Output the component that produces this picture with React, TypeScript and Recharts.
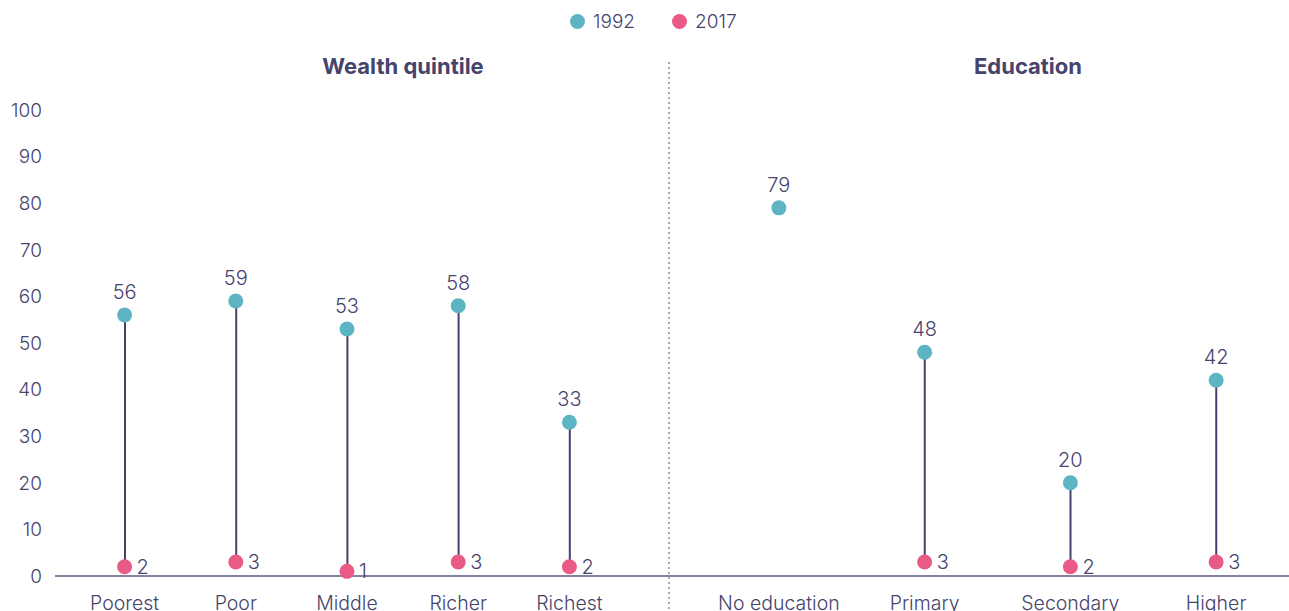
import React from 'react'
import { ComposedChart, Bar, Line, XAxis, YAxis, LabelList } from 'recharts'

const seriesNames = ['1992', '2017']
const yTicks = [0, 10, 20, 30, 40, 50, 60, 70, 80, 90, 100]

const wealthCategories = ['Poorest', 'Poor', 'Middle', 'Richer', 'Richest']
const wealth1992 = [56, 59, 53, 58, 33]
const wealth2017 = [2, 3, 1, 3, 2]

const educationCategories = ['No education', 'Primary', 'Secondary', 'Higher']
const education1992 = [79, 48, 20, 42]
const education2017: (number | null)[] = [null, 3, 2, 3]

const TEAL = '#5db5c4'
const PINK = '#ea5a86'
const STEM = '#46416c'
const TEXT = '#46436d'
const FONT = 'Inter, "Liberation Sans", sans-serif'

const buildRows = (cats: string[], a: number[], b: (number | null)[]) =>
  cats.map((name, i) => ({
    name,
    y1992: a[i],
    y2017: b[i],
    range: b[i] == null ? null : [b[i], a[i]],
  }))

const wealthRows = buildRows(wealthCategories, wealth1992, wealth2017)
const educationRows = buildRows(educationCategories, education1992, education2017)

interface IPanel {
  data: any[]
  width: number
  showYAxis: boolean
  padLeft: number
  padRight: number
}

const Panel = ({ data, width, showYAxis, padLeft, padRight }: IPanel) => (
  <ComposedChart
    width={width}
    height={611}
    data={data}
    margin={{ top: 110, right: 0, bottom: 0, left: 0 }}
    style={{ fontFamily: FONT }}
  >
    <XAxis
      dataKey="name"
      height={35}
      padding={{ left: padLeft, right: padRight }}
      tickLine={false}
      tickSize={0}
      tickMargin={20}
      axisLine={{ stroke: '#5c5880', strokeWidth: 1.5 }}
      tick={{ fill: TEXT, fontSize: 19.5, fontWeight: 300 }}
      interval={0}
    />
    <YAxis
      hide={!showYAxis}
      width={55}
      domain={[0, 100]}
      ticks={yTicks}
      axisLine={false}
      tickLine={false}
      tickSize={0}
      tickMargin={13}
      tick={{ fill: TEXT, fontSize: 19, fontWeight: 300 }}
    />
    <Bar dataKey="range" barSize={2} fill={STEM} isAnimationActive={false} />
    <Line
      dataKey="y1992"
      stroke="none"
      dot={{ r: 7.5, fill: TEAL, stroke: 'none' }}
      activeDot={false}
      isAnimationActive={false}
    >
      <LabelList dataKey="y1992" position="top" offset={16} fill={TEXT} fontSize={20} fontWeight={300} />
    </Line>
    <Line
      dataKey="y2017"
      stroke="none"
      dot={{ r: 7.5, fill: PINK, stroke: 'none' }}
      activeDot={false}
      isAnimationActive={false}
    >
      <LabelList dataKey="y2017" position="right" offset={12} fill={TEXT} fontSize={20} fontWeight={300} />
    </Line>
  </ComposedChart>
)

const App = () => (
  <div
    style={{
      position: 'absolute',
      left: 0,
      top: 0,
      width: 1289,
      height: 611,
      background: '#fff',
      fontFamily: FONT,
      color: TEXT,
      overflow: 'hidden',
    }}
  >
    <div style={{ position: 'absolute', left: 0, top: 0 }}>
      <Panel data={wealthRows} width={669} showYAxis padLeft={14} padRight={44} />
    </div>
    <div style={{ position: 'absolute', left: 669, top: 0 }}>
      <Panel data={educationRows} width={620} showYAxis={false} padLeft={37} padRight={0} />
    </div>

    <svg style={{ position: 'absolute', left: 668, top: 62 }} width={2} height={549}>
      <line x1={1} y1={0} x2={1} y2={549} stroke="#555" strokeWidth={1} strokeDasharray="2 3" />
    </svg>

    <div
      style={{ position: 'absolute', left: 253, width: 300, top: 53, textAlign: 'center', fontWeight: 700, fontSize: 22 }}
    >
      Wealth quintile
    </div>
    <div
      style={{ position: 'absolute', left: 878, width: 300, top: 53, textAlign: 'center', fontWeight: 700, fontSize: 22 }}
    >
      Education
    </div>

    <div
      style={{
        position: 'absolute',
        left: 570,
        top: 10,
        display: 'flex',
        alignItems: 'center',
        fontSize: 19,
        fontWeight: 300,
      }}
    >
      {seriesNames.map((s, i) => (
        <div key={s} style={{ display: 'flex', alignItems: 'center', marginRight: 37 }}>
          <span
            style={{
              display: 'inline-block',
              width: 15,
              height: 15,
              borderRadius: 8,
              background: i === 0 ? TEAL : PINK,
              marginRight: 8,
            }}
          />
          <span>{s}</span>
        </div>
      ))}
    </div>
  </div>
)

export default App
